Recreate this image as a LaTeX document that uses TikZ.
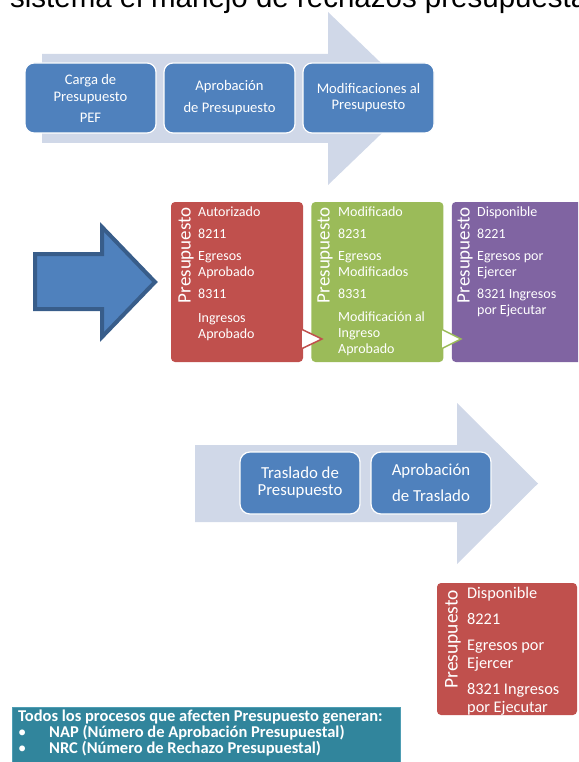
\documentclass[tikz,border=0pt]{standalone}
\usepackage{fontspec}
\setmainfont{Carlito}
\newfontfamily\titlefont{Liberation Sans}
\usetikzlibrary{positioning}
\definecolor{chevfill}{HTML}{D0D8E8}
\definecolor{accblue}{HTML}{4F81BD}
\definecolor{accblueline}{HTML}{385D8A}
\definecolor{accred}{HTML}{C0504D}
\definecolor{accgreen}{HTML}{9BBB59}
\definecolor{accpurple}{HTML}{8064A2}
\definecolor{accteal}{HTML}{31859C}
\definecolor{tealline}{HTML}{4E9DB3}

\begin{document}
\begin{tikzpicture}[x=1pt,y=-1pt,
  stepbox/.style={draw=white,line width=1.2pt,fill=accblue,rounded corners=9pt,
    text=white,align=center,inner sep=0pt,minimum width=131pt,minimum height=70pt,
    font=\fontsize{14.6}{17}\selectfont},
  movebox/.style={stepbox,minimum width=120pt,minimum height=62pt,rounded corners=10pt,
    font=\fontsize{16.8}{17}\selectfont},
  colbox/.style={rounded corners=4pt,inner sep=0pt,minimum width=132pt,minimum height=160pt},
  sidelabel/.style={rotate=90,anchor=east,inner sep=0pt,text=white,
    font=\fontsize{19}{19}\selectfont},
  coltext/.style={anchor=north west,inner sep=0pt,align=left,text=white,
    font=\fontsize{14}{16}\selectfont},
  joint/.style={fill=white,line width=1.5pt,line join=miter}
]
  \useasboundingbox (0,0) rectangle (578,762);
  \clip (0,0) rectangle (578,762);

  % heading (cut at the top)
  \node[anchor=base west,inner sep=0pt,font=\titlefont\fontsize{29.5}{34}\selectfont]
    (titulo) at (10,7.5) {sistema el manejo de rechazos presupuesta};

  % first process
  \fill[chevfill] (42,54) -- (328,54) -- (328,12) -- (418,98.5) -- (328,185)
    -- (328,143) -- (42,143) -- cycle;
  \node[stepbox] (carga)  at (90.5,98)  {Carga de\\Presupuesto\\[4pt]PEF};
  \node[stepbox] (aprob)  at (229.5,98) {Aprobación\\[5pt]de Presupuesto};
  \node[stepbox,font=\fontsize{14.6}{16}\selectfont] (modif) at (368.5,98)
    {Modificaciones al\\Presupuesto};

  % big arrow and the three columns
  \draw[fill=accblue,draw=accblueline,line width=4pt,line join=miter]
    (35,254) -- (102,254) -- (102,227) -- (155,282) -- (102,337) -- (102,309)
    -- (35,309) -- cycle;
  \node[colbox,fill=accred]    (autor) at (237,282) {};
  \node[colbox,fill=accgreen,right=8pt of autor]  (modcol) {};
  \node[colbox,fill=accpurple,right=8pt of modcol] (dispo) {};

  \node[sidelabel] (autorlab) at (186,207) {Presupuesto};
  \node[sidelabel] (modlab)   at (325,207) {Presupuesto};
  \node[sidelabel] (dispolab) at (465,207) {Presupuesto};
  \node[coltext] (autortxt) at (198,207)
    {Autorizado\\[6pt]8211\\[6pt]Egresos\\Aprobado\\[6pt]8311\\[8pt]Ingresos\\Aprobado};
  \node[coltext] (modtxt) at (338,207)
    {Modificado\\[6pt]8231\\[6pt]Egresos\\Modificados\\[6pt]8331\\[7pt]Modificación al\\Ingreso\\Aprobado};
  \node[coltext] (dispotxt) at (477,207)
    {Disponible\\[6pt]8221\\[6pt]Egresos por\\Ejercer\\[6pt]8321 Ingresos\\por Ejecutar};

  \filldraw[joint,draw=accred]   (301,329) -- (322,339) -- (301,349) -- cycle;
  \filldraw[joint,draw=accgreen] (441,329) -- (461,339) -- (441,349) -- cycle;

  % second process
  \fill[chevfill] (195,445) -- (457,445) -- (457,403) -- (538,483.5) -- (457,564)
    -- (457,522) -- (195,522) -- cycle;
  \node[movebox] (trasl)  at (300,483) {Traslado de\\Presupuesto};
  \node[movebox] (aprtr)  at (431,483) {Aprobación\\[9pt]de Traslado};

  \node[colbox,fill=accred,minimum width=140pt,minimum height=132pt] (saldo) at (507,649) {};
  \node[sidelabel,font=\fontsize{19.5}{19.5}\selectfont] (saldolab) at (453,590) {Presupuesto};
  \node[coltext,font=\fontsize{16.3}{18}\selectfont] (saldotxt) at (467,587)
    {Disponible\\[8pt]8221\\[8pt]Egresos por\\Ejercer\\[8pt]8321 Ingresos\\por Ejecutar};

  % note
  \fill[accteal,draw=tealline,line width=1pt] (12,707) rectangle (400,775);
  \node[anchor=north west,inner sep=0pt,align=left,text=white,
    font=\bfseries\fontsize{16.5}{14.5}\selectfont] (nota) at (18,710)
    {Todos los procesos que afecten Presupuesto generan:\\
     \makebox[31pt][l]{\mdseries\textbullet}NAP (Número de Aprobación Presupuestal)\\
     \makebox[31pt][l]{\mdseries\textbullet}NRC (Número de Rechazo Presupuestal)};
\end{tikzpicture}
\end{document}
